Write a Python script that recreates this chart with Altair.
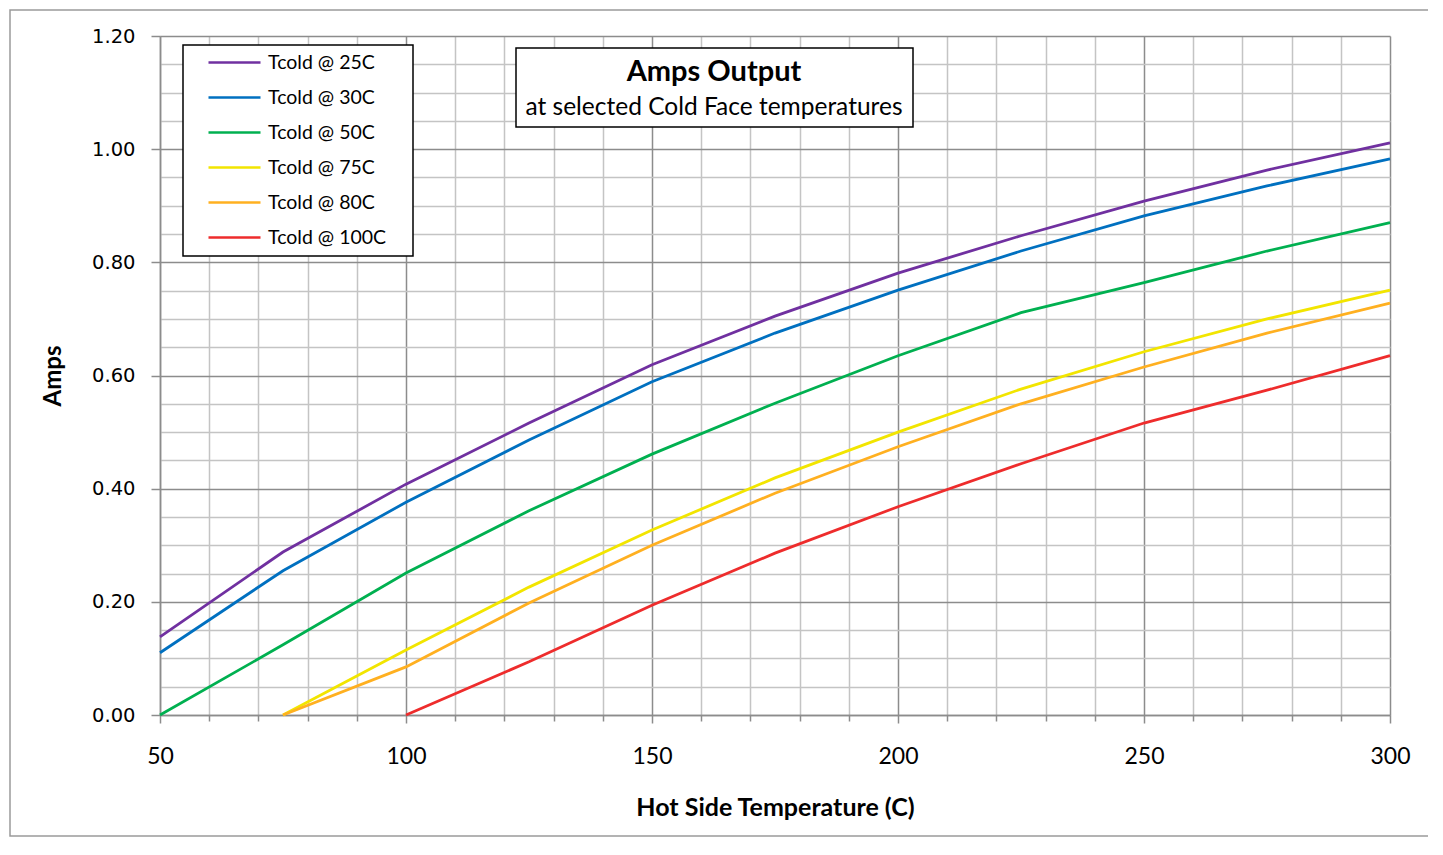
import altair as alt
import pandas as pd

hot_temps = [50, 75, 100, 125, 150, 175, 200, 225, 250, 275, 300]

series_names = ["Tcold @ 25C", "Tcold @ 30C", "Tcold @ 50C",
                "Tcold @ 75C", "Tcold @ 80C", "Tcold @ 100C"]
series_colors = ["#7030A0", "#0070C0", "#00B050", "#F2E500", "#FFB020", "#EE2C2C"]

amps_25 = [0.138, 0.288, 0.408, 0.516, 0.619, 0.705, 0.781, 0.847, 0.908, 0.963, 1.011]
amps_30 = [0.110, 0.255, 0.376, 0.486, 0.589, 0.675, 0.751, 0.820, 0.882, 0.935, 0.983]
amps_50 = [0.000, 0.124, 0.251, 0.361, 0.461, 0.551, 0.635, 0.711, 0.764, 0.820, 0.870]
amps_75 = [None, 0.000, 0.115, 0.226, 0.327, 0.419, 0.500, 0.576, 0.642, 0.700, 0.751]
amps_80 = [None, 0.000, 0.085, 0.198, 0.300, 0.392, 0.474, 0.550, 0.615, 0.675, 0.728]
amps_100 = [None, None, 0.000, 0.094, 0.194, 0.286, 0.368, 0.444, 0.516, 0.574, 0.635]

x_ticks = list(range(50, 301, 10))
y_ticks = [round(i * 0.05, 2) for i in range(0, 25)]

rows = []
for name, vals in zip(series_names,
                      [amps_25, amps_30, amps_50, amps_75, amps_80, amps_100]):
    for t, v in zip(hot_temps, vals):
        if v is not None:
            rows.append({"temp": t, "amps": v, "series": name})
df = pd.DataFrame(rows)

FONT = "Lato"
GRID_MINOR = "#C4C4C4"
GRID_MAJOR = "#8C8C8C"
Y_MAJOR = "round(datum.value*100) % 20 === 0"

x_axis = alt.Axis(
    values=x_ticks,
    labelExpr="datum.value % 50 === 0 ? datum.label : ''",
    grid=True,
    gridColor={"condition": {"test": "datum.value % 50 === 0", "value": GRID_MAJOR},
               "value": GRID_MINOR},
    gridWidth=1.5,
    domainColor=GRID_MAJOR, domainWidth=1.5,
    tickColor=GRID_MAJOR, tickWidth=1.5,
    tickSize={"condition": {"test": "datum.value % 50 === 0", "value": 8}, "value": 6},
    labelFont=FONT, labelFontSize=23, labelColor="#000000", labelPadding=22,
    labelFlush=False, labelOverlap=False,
    title="Hot Side Temperature (C)", titleFont=FONT, titleFontSize=25,
    titleFontWeight="bold", titleColor="#000000", titlePadding=27,
)

y_axis = alt.Axis(
    values=y_ticks,
    labelExpr=Y_MAJOR + " ? format(datum.value, '.2f') : ''",
    grid=True,
    gridColor={"condition": {"test": Y_MAJOR, "value": GRID_MAJOR},
               "value": GRID_MINOR},
    gridWidth=1.5,
    domainColor=GRID_MAJOR, domainWidth=1.5,
    tickColor=GRID_MAJOR, tickWidth=1.5,
    tickSize={"condition": {"test": Y_MAJOR, "value": 9}, "value": 0},
    labelFont="DejaVu Sans", labelFontSize=19.5, labelColor="#000000", labelPadding=16,
    labelFlush=False, labelOverlap=False,
    title="Amps", titleFont=FONT, titleFontSize=24, titleFontWeight="bold",
    titleColor="#000000", titlePadding=26,
)

lines = alt.Chart(df).mark_line(strokeWidth=2.8, clip=False).encode(
    x=alt.X("temp:Q", scale=alt.Scale(domain=[50, 300], nice=False, zero=False), axis=x_axis),
    y=alt.Y("amps:Q", scale=alt.Scale(domain=[0, 1.2], nice=False), axis=y_axis),
    color=alt.Color(
        "series:N",
        scale=alt.Scale(domain=series_names, range=series_colors),
        legend=alt.Legend(
            title=None, orient="none", legendX=63, legendY=15,
            symbolType="M-2.6,0H2.6", symbolSize=400, symbolStrokeWidth=2.6,
            labelOffset=22, rowPadding=14, padding=0,
            labelFont=FONT, labelFontSize=19.5, labelColor="#000000",
            labelLimit=300,
        ),
    ),
    order=alt.Order("temp:Q"),
)

anno = pd.DataFrame({"k": [0]})

outer_border = alt.Chart(anno).mark_rect(fill="transparent", stroke="#9A9A9A", strokeWidth=1.5).encode(
    x=alt.value(-150), x2=alt.value(1273), y=alt.value(-26), y2=alt.value(800)
)

legend_box = alt.Chart(anno).mark_rect(fill="white", stroke="#000000", strokeWidth=1.5).encode(
    x=alt.value(23), x2=alt.value(253), y=alt.value(9), y2=alt.value(220)
)

title_box = alt.Chart(anno).mark_rect(fill="white", stroke="#000000", strokeWidth=1.5).encode(
    x=alt.value(356), x2=alt.value(753), y=alt.value(12), y2=alt.value(91)
)

title_main = alt.Chart(anno).mark_text(
    text="Amps Output", font=FONT, fontSize=29, fontWeight="bold", color="#000000",
    align="center", baseline="middle"
).encode(x=alt.value(554), y=alt.value(36))

title_sub = alt.Chart(anno).mark_text(
    text="at selected Cold Face temperatures", font=FONT, fontSize=24.5, color="#000000",
    align="center", baseline="middle"
).encode(x=alt.value(554), y=alt.value(72))

chart = alt.layer(
    lines, outer_border, legend_box, title_box, title_main, title_sub
).properties(
    width=1230, height=679,
    autosize=alt.AutoSizeParams(type="none"),
    padding={"left": 152, "top": 28, "right": 38, "bottom": 123},
    background="white",
).configure_view(strokeWidth=0)

chart.save("out.html", embed_options={"renderer": "svg", "actions": False})
